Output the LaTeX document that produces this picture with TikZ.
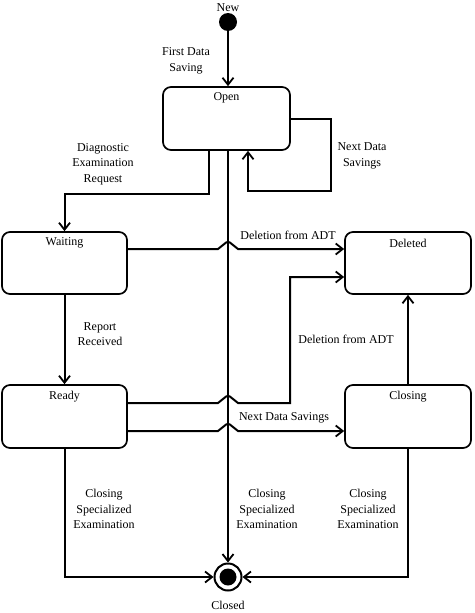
\documentclass[tikz,border=0pt]{standalone}
\usepackage{fontspec}
\setmainfont{Liberation Serif}
\usetikzlibrary{arrows.meta}
\begin{document}
\begin{tikzpicture}[x=1pt,y=-1pt,
  every node/.style={font=\fontsize{12}{15.5}\selectfont},
  box/.style={draw,line width=1.7pt,rounded corners=8pt,inner sep=0pt},
  lbl/.style={align=center,inner sep=0pt},
  init/.style={circle,fill=black,minimum size=18pt,inner sep=0pt},
  arr/.style={line width=2pt,-{Straight Barb[length=7pt,width=11pt,line width=1.8pt]}},
  hop/.style={rounded corners=2.5pt}]
\useasboundingbox (0,0) rectangle (474,613);
% states
\node[init] (new) at (228,22) {};
\node[lbl] (newlbl) at (228,8) {New};
\node[box,minimum width=127pt,minimum height=63pt] (open) at (226.5,118.5) {};
\node[box,minimum width=125pt,minimum height=62pt] (waiting) at (64.5,263) {};
\node[box,minimum width=126pt,minimum height=62pt] (deleted) at (408,263) {};
\node[box,minimum width=125pt,minimum height=63pt] (ready) at (64.5,416.5) {};
\node[box,minimum width=126pt,minimum height=63pt] (closing) at (408,416.5) {};
\node[lbl] (openlbl) at ([yshift=-12pt]open.north) {Open};
\node[lbl] (waitlbl) at ([yshift=-12pt]waiting.north) {Waiting};
\node[lbl] (dellbl) at ([yshift=-12pt]deleted.north) {Deleted};
\node[lbl] (readylbl) at ([yshift=-12pt]ready.north) {Ready};
\node[lbl] (closinglbl) at ([yshift=-12pt]closing.north) {Closing};
\node[circle,draw,line width=2pt,fill=white,minimum size=27pt,inner sep=0pt] (closed) at (228,577) {};
\fill (closed.center) circle (8.5pt);
\node[lbl] (closedlbl) at (228,605) {Closed};
% transitions
\draw[arr] (new) -- (new |- open.north);
\draw[arr] ([xshift=-17.5pt]open.south) -- ++(0,43) -| (waiting.north);
\draw[arr] (open.east) -- ++(40,0) -- ++(0,72) -| ([xshift=21.5pt]open.south);
\draw[arr] ([xshift=1.5pt]open.south) -- (closed.north);
\draw[arr] ([yshift=14pt]waiting.east) -- (218,249) [hop] -- (228,241) [sharp corners] -- (238,249) -- ([yshift=14pt]deleted.west);
\draw[arr] ([yshift=13.5pt]ready.east) -- (218,403) [hop] -- (228,395) [sharp corners] -- (238,403) -| (290,277) -- ([yshift=-14pt]deleted.west);
\draw[arr] ([yshift=-14.5pt]ready.east) -- (218,431) [hop] -- (228,423) [sharp corners] -- (238,431) -- ([yshift=-14.5pt]closing.west);
\draw[arr] (closing.north) -- (deleted.south);
\draw[arr] (waiting.south) -- (ready.north);
\draw[arr] (ready.south) |- (closed.west);
\draw[arr] (closing.south) |- (closed.east);
% labels
\node[lbl] (l1) at (186,61) {First Data\\Saving};
\node[lbl] (l2) at (362,156) {Next Data\\Savings};
\node[lbl] (l3) at (103,164) {Diagnostic\\Examination\\Request};
\node[lbl] (l4) at (288,235) {Deletion from ADT};
\node[lbl] (l5) at (100,334) {Report\\Received};
\node[lbl] (l6) at (346,339) {Deletion from ADT};
\node[lbl] (l7) at (284,418) {Next Data Savings};
\node[lbl] (l8) at (104,509) {Closing\\Specialized\\Examination};
\node[lbl] (l9) at (267,509) {Closing\\Specialized\\Examination};
\node[lbl] (l10) at (368,509) {Closing\\Specialized\\Examination};
\end{tikzpicture}
\end{document}
